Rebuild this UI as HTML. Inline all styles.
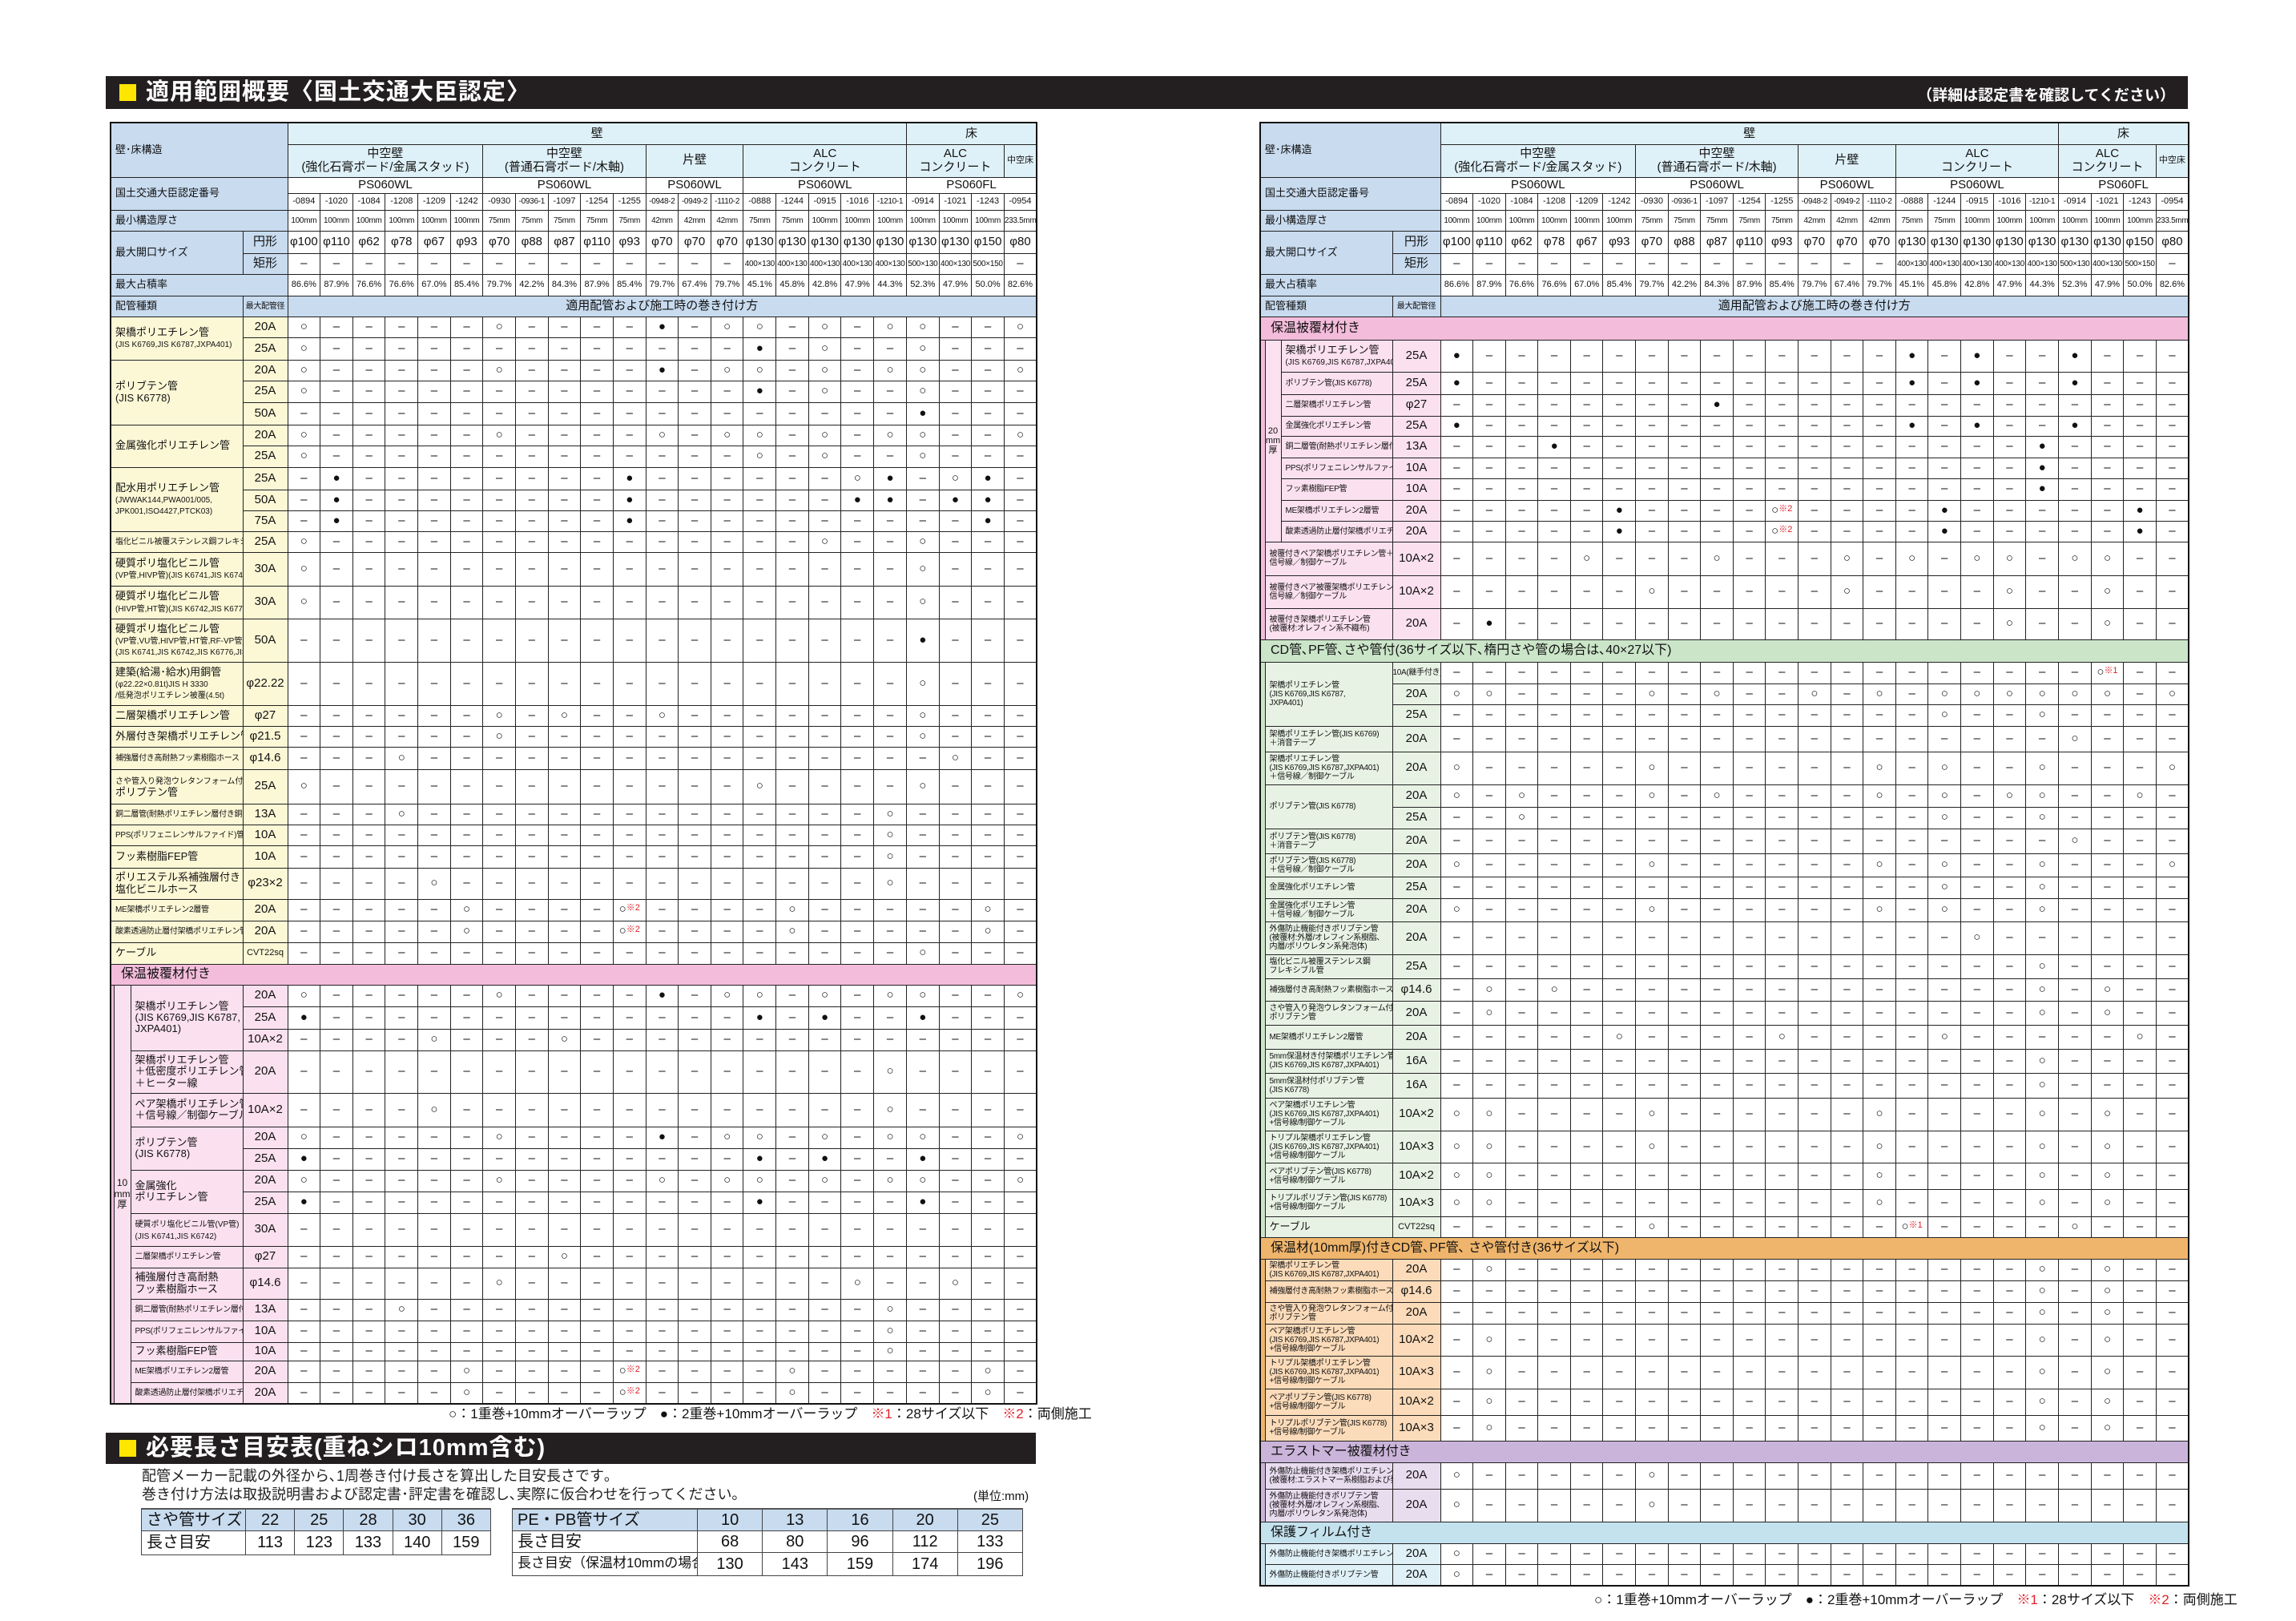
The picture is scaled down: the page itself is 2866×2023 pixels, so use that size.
<!DOCTYPE html>
<html><head><meta charset="utf-8">
<style>
*{margin:0;padding:0;box-sizing:border-box}
body{width:2866px;height:2023px;background:#fff;position:relative;overflow:hidden;font-family:"Liberation Sans","Noto Sans CJK JP",sans-serif;color:#111}
.bar{position:absolute;background:#231f20;color:#fff}
.bar .sq{position:absolute;left:17px;top:10px;width:21px;height:21px;background:#ffe600}
.bar .tt{position:absolute;left:50px;top:3px;font-size:29px;font-weight:bold;line-height:35px;letter-spacing:1px}
table.t{position:absolute;border-collapse:collapse;table-layout:fixed;border:2px solid #111}
table.t td{border:1px solid #222;text-align:center;vertical-align:middle;font-size:15px;line-height:1.1;overflow:hidden;white-space:nowrap;padding:0}
table.t td.L{text-align:left;padding-left:5px;white-space:nowrap;font-size:13px;line-height:1.1}
.hb{background:#c8dbef}.hc{background:#dff1f8}
.y{background:#fcf8d6}.p{background:#fbe1ef}.pb{background:#f3bcdb}
.g{background:#e8f2e4}.gb{background:#cbe5c9}
.o{background:#fbdbb9}.ob{background:#efb56c}
.v{background:#e8dcef}.vb{background:#cbb4da}
.b{background:#dff0f7}.bb{background:#c4e2ee}
td.band{text-align:left!important;padding-left:12px!important;font-size:16px!important;border-left:none!important;border-right:none!important}
td.s{border:none!important}
table.t td.sm{font-size:11px}table.t td.xs{font-size:10px;letter-spacing:-0.3px}
small{font-size:10px}
.r{color:#e0202a;font-size:11px;vertical-align:top}
table.n{position:absolute;border-collapse:collapse;table-layout:fixed}
table.n td{border:1px solid #444;font-size:20px;text-align:center;height:27px;white-space:nowrap;overflow:hidden;line-height:1.1}
table.n td.l{text-align:left;padding-left:6px}
table.n tr.h td{background:#c8dbef;border-top:2px solid #555}
</style></head><body>

<div class="bar" style="left:132px;top:95px;width:2599px;height:41px">
<div class="sq"></div><div class="tt">適用範囲概要〈国土交通大臣認定〉</div>
<div style="position:absolute;right:16px;top:9px;font-size:19px;font-weight:bold">（詳細は認定書を確認してください）</div>
</div>

<!-- LEFT TABLE -->
<table class="t" style="left:137px;top:152px;width:1156px">
<colgroup><col style="width:4px"><col style="width:21px"><col style="width:140px"><col style="width:56px"><col span="23" style="width:40.65px"></colgroup>
<tr style="height:27px"><td colspan="4" rowspan="2" class="L hb">壁･床構造</td><td colspan="19" class="hc">壁</td><td colspan="4" class="hc">床</td></tr>
<tr style="height:41px"><td colspan="6" class="hc">中空壁<br>(強化石膏ボード/金属スタッド)</td><td colspan="5" class="hc">中空壁<br>(普通石膏ボード/木軸)</td><td colspan="3" class="hc">片壁</td><td colspan="5" class="hc">ALC<br>コンクリート</td><td colspan="3" class="hc">ALC<br>コンクリート</td><td class="hc sm">中空床</td></tr>
<tr style="height:20px"><td colspan="4" rowspan="2" class="L hb">国土交通大臣認定番号</td><td colspan="6" style="border-bottom:none">PS060WL</td><td colspan="5" style="border-bottom:none">PS060WL</td><td colspan="3" style="border-bottom:none">PS060WL</td><td colspan="5" style="border-bottom:none">PS060WL</td><td colspan="4" style="border-bottom:none">PS060FL</td></tr>
<tr style="height:21px"><td class="sm">-0894<td class="sm">-1020<td class="sm">-1084<td class="sm">-1208<td class="sm">-1209<td class="sm">-1242<td class="sm">-0930<td class="xs">-0936-1<td class="sm">-1097<td class="sm">-1254<td class="sm">-1255<td class="xs">-0948-2<td class="xs">-0949-2<td class="xs">-1110-2<td class="sm">-0888<td class="sm">-1244<td class="sm">-0915<td class="sm">-1016<td class="xs">-1210-1<td class="sm">-0914<td class="sm">-1021<td class="sm">-1243<td class="sm">-0954</tr>
<tr style="height:26px"><td colspan="4" class="L hb">最小構造厚さ</td><td class="xs">100mm<td class="xs">100mm<td class="xs">100mm<td class="xs">100mm<td class="xs">100mm<td class="xs">100mm<td class="xs">75mm<td class="xs">75mm<td class="xs">75mm<td class="xs">75mm<td class="xs">75mm<td class="xs">42mm<td class="xs">42mm<td class="xs">42mm<td class="xs">75mm<td class="xs">75mm<td class="xs">100mm<td class="xs">100mm<td class="xs">100mm<td class="xs">100mm<td class="xs">100mm<td class="xs">100mm<td class="xs">233.5mm</tr>
<tr style="height:28px"><td colspan="3" rowspan="2" class="L hb">最大開口サイズ</td><td class="hb">円形</td><td>φ100<td>φ110<td>φ62<td>φ78<td>φ67<td>φ93<td>φ70<td>φ88<td>φ87<td>φ110<td>φ93<td>φ70<td>φ70<td>φ70<td>φ130<td>φ130<td>φ130<td>φ130<td>φ130<td>φ130<td>φ130<td>φ150<td>φ80</tr>
<tr style="height:26px"><td class="hb">矩形</td><td>–<td>–<td>–<td>–<td>–<td>–<td>–<td>–<td>–<td>–<td>–<td>–<td>–<td>–<td class="xs">400×130<td class="xs">400×130<td class="xs">400×130<td class="xs">400×130<td class="xs">400×130<td class="xs">500×130<td class="xs">400×130<td class="xs">500×150<td>–</tr>
<tr style="height:27px"><td colspan="4" class="L hb">最大占積率</td><td class="sm">86.6%<td class="sm">87.9%<td class="sm">76.6%<td class="sm">76.6%<td class="sm">67.0%<td class="sm">85.4%<td class="sm">79.7%<td class="sm">42.2%<td class="sm">84.3%<td class="sm">87.9%<td class="sm">85.4%<td class="sm">79.7%<td class="sm">67.4%<td class="sm">79.7%<td class="sm">45.1%<td class="sm">45.8%<td class="sm">42.8%<td class="sm">47.9%<td class="sm">44.3%<td class="sm">52.3%<td class="sm">47.9%<td class="sm">50.0%<td class="sm">82.6%</tr>
<tr style="height:26px"><td colspan="3" class="L hb">配管種類</td><td class="hb xs">最大配管径</td><td colspan="23" class="hb">適用配管および施工時の巻き付け方</td></tr>

<tr style="height:26px"><td colspan="3" rowspan="2" class="L y">架橋ポリエチレン管<br><small>(JIS K6769,JIS K6787,JXPA401)</small></td><td class="y">20A</td><td>○<td>–<td>–<td>–<td>–<td>–<td>○<td>–<td>–<td>–<td>–<td>●<td>–<td>○<td>○<td>–<td>○<td>–<td>○<td>○<td>–<td>–<td>○</tr>
<tr style="height:28px"><td class="y">25A</td><td>○<td>–<td>–<td>–<td>–<td>–<td>–<td>–<td>–<td>–<td>–<td>–<td>–<td>–<td>●<td>–<td>○<td>–<td>–<td>○<td>–<td>–<td>–</tr>
<tr style="height:26px"><td colspan="3" rowspan="3" class="L y">ポリブテン管<br>(JIS K6778)</td><td class="y">20A</td><td>○<td>–<td>–<td>–<td>–<td>–<td>○<td>–<td>–<td>–<td>–<td>●<td>–<td>○<td>○<td>–<td>○<td>–<td>○<td>○<td>–<td>–<td>○</tr>
<tr style="height:27px"><td class="y">25A</td><td>○<td>–<td>–<td>–<td>–<td>–<td>–<td>–<td>–<td>–<td>–<td>–<td>–<td>–<td>●<td>–<td>○<td>–<td>–<td>○<td>–<td>–<td>–</tr>
<tr style="height:28px"><td class="y">50A</td><td>–<td>–<td>–<td>–<td>–<td>–<td>–<td>–<td>–<td>–<td>–<td>–<td>–<td>–<td>–<td>–<td>–<td>–<td>–<td>●<td>–<td>–<td>–</tr>
<tr style="height:26px"><td colspan="3" rowspan="2" class="L y">金属強化ポリエチレン管</td><td class="y">20A</td><td>○<td>–<td>–<td>–<td>–<td>–<td>○<td>–<td>–<td>–<td>–<td>○<td>–<td>○<td>○<td>–<td>○<td>–<td>○<td>○<td>–<td>–<td>○</tr>
<tr style="height:27px"><td class="y">25A</td><td>○<td>–<td>–<td>–<td>–<td>–<td>–<td>–<td>–<td>–<td>–<td>–<td>–<td>–<td>○<td>–<td>○<td>–<td>–<td>○<td>–<td>–<td>–</tr>
<tr style="height:28px"><td colspan="3" rowspan="3" class="L y">配水用ポリエチレン管<br><small>(JWWAK144,PWA001/005,<br>JPK001,ISO4427,PTCK03)</small></td><td class="y">25A</td><td>–<td>●<td>–<td>–<td>–<td>–<td>–<td>–<td>–<td>–<td>●<td>–<td>–<td>–<td>–<td>–<td>–<td>○<td>●<td>–<td>○<td>●<td>–</tr>
<tr style="height:26px"><td class="y">50A</td><td>–<td>●<td>–<td>–<td>–<td>–<td>–<td>–<td>–<td>–<td>●<td>–<td>–<td>–<td>–<td>–<td>–<td>●<td>●<td>–<td>●<td>●<td>–</tr>
<tr style="height:26px"><td class="y">75A</td><td>–<td>●<td>–<td>–<td>–<td>–<td>–<td>–<td>–<td>–<td>●<td>–<td>–<td>–<td>–<td>–<td>–<td>–<td>–<td>–<td>–<td>●<td>–</tr>
<tr style="height:26px"><td colspan="3" class="L y xs">塩化ビニル被覆ステンレス鋼フレキシブル管</td><td class="y">25A</td><td>○<td>–<td>–<td>–<td>–<td>–<td>–<td>–<td>–<td>–<td>–<td>–<td>–<td>–<td>–<td>–<td>○<td>–<td>–<td>○<td>–<td>–<td>–</tr>
<tr style="height:42px"><td colspan="3" class="L y">硬質ポリ塩化ビニル管<br><small>(VP管,HIVP管)(JIS K6741,JIS K6742)</small></td><td class="y">30A</td><td>○<td>–<td>–<td>–<td>–<td>–<td>–<td>–<td>–<td>–<td>–<td>–<td>–<td>–<td>–<td>–<td>–<td>–<td>–<td>○<td>–<td>–<td>–</tr>
<tr style="height:41px"><td colspan="3" class="L y">硬質ポリ塩化ビニル管<br><small>(HIVP管,HT管)(JIS K6742,JIS K6776)</small></td><td class="y">30A</td><td>○<td>–<td>–<td>–<td>–<td>–<td>–<td>–<td>–<td>–<td>–<td>–<td>–<td>–<td>–<td>–<td>–<td>–<td>–<td>○<td>–<td>–<td>–</tr>
<tr style="height:54px"><td colspan="3" class="L y">硬質ポリ塩化ビニル管<br><small>(VP管,VU管,HIVP管,HT管,RF-VP管)<br>(JIS K6741,JIS K6742,JIS K6776,JIS K9798)</small></td><td class="y">50A</td><td>–<td>–<td>–<td>–<td>–<td>–<td>–<td>–<td>–<td>–<td>–<td>–<td>–<td>–<td>–<td>–<td>–<td>–<td>–<td>●<td>–<td>–<td>–</tr>
<tr style="height:54px"><td colspan="3" class="L y">建築(給湯･給水)用銅管<br><small>(φ22.22×0.81t)JIS H 3330<br>/低発泡ポリエチレン被覆(4.5t)</small></td><td class="y">φ22.22</td><td>–<td>–<td>–<td>–<td>–<td>–<td>–<td>–<td>–<td>–<td>–<td>–<td>–<td>–<td>–<td>–<td>–<td>–<td>–<td>○<td>–<td>–<td>–</tr>
<tr style="height:26px"><td colspan="3" class="L y">二層架橋ポリエチレン管</td><td class="y">φ27</td><td>–<td>–<td>–<td>–<td>–<td>–<td>○<td>–<td>○<td>–<td>–<td>○<td>–<td>–<td>–<td>–<td>–<td>–<td>–<td>○<td>–<td>–<td>–</tr>
<tr style="height:26px"><td colspan="3" class="L y">外層付き架橋ポリエチレン管</td><td class="y">φ21.5</td><td>–<td>–<td>–<td>–<td>–<td>–<td>○<td>–<td>–<td>–<td>–<td>–<td>–<td>–<td>–<td>–<td>–<td>–<td>–<td>○<td>–<td>–<td>–</tr>
<tr style="height:28px"><td colspan="3" class="L y xs">補強層付き高耐熱フッ素樹脂ホース</td><td class="y">φ14.6</td><td>–<td>–<td>–<td>○<td>–<td>–<td>–<td>–<td>–<td>–<td>–<td>–<td>–<td>–<td>–<td>–<td>–<td>–<td>–<td>–<td>○<td>–<td>–</tr>
<tr style="height:43px"><td colspan="3" class="L y"><small>さや管入り発泡ウレタンフォーム付き</small><br>ポリブテン管</td><td class="y">25A</td><td>○<td>–<td>–<td>–<td>–<td>–<td>–<td>–<td>–<td>–<td>–<td>–<td>–<td>–<td>○<td>–<td>–<td>–<td>–<td>○<td>–<td>–<td>–</tr>
<tr style="height:26px"><td colspan="3" class="L y xs">銅二層管(耐熱ポリエチレン層付き銅管)</td><td class="y">13A</td><td>–<td>–<td>–<td>○<td>–<td>–<td>–<td>–<td>–<td>–<td>–<td>–<td>–<td>–<td>–<td>–<td>–<td>–<td>○<td>–<td>–<td>–<td>–</tr>
<tr style="height:26px"><td colspan="3" class="L y xs">PPS(ポリフェニレンサルファイド)管</td><td class="y">10A</td><td>–<td>–<td>–<td>–<td>–<td>–<td>–<td>–<td>–<td>–<td>–<td>–<td>–<td>–<td>–<td>–<td>–<td>–<td>○<td>–<td>–<td>–<td>–</tr>
<tr style="height:28px"><td colspan="3" class="L y">フッ素樹脂FEP管</td><td class="y">10A</td><td>–<td>–<td>–<td>–<td>–<td>–<td>–<td>–<td>–<td>–<td>–<td>–<td>–<td>–<td>–<td>–<td>–<td>–<td>○<td>–<td>–<td>–<td>–</tr>
<tr style="height:39px"><td colspan="3" class="L y">ポリエステル系補強層付き<br>塩化ビニルホース</td><td class="y">φ23×2</td><td>–<td>–<td>–<td>–<td>○<td>–<td>–<td>–<td>–<td>–<td>–<td>–<td>–<td>–<td>–<td>–<td>–<td>–<td>○<td>–<td>–<td>–<td>–</tr>
<tr style="height:27px"><td colspan="3" class="L y xs">ME架橋ポリエチレン2層管</td><td class="y">20A</td><td>–<td>–<td>–<td>–<td>–<td>○<td>–<td>–<td>–<td>–<td>○<span class="r">※2</span><td>–<td>–<td>–<td>–<td>○<td>–<td>–<td>–<td>–<td>–<td>○<td>–</tr>
<tr style="height:27px"><td colspan="3" class="L y xs">酸素透過防止層付架橋ポリエチレン管</td><td class="y">20A</td><td>–<td>–<td>–<td>–<td>–<td>○<td>–<td>–<td>–<td>–<td>○<span class="r">※2</span><td>–<td>–<td>–<td>–<td>○<td>–<td>–<td>–<td>–<td>–<td>○<td>–</tr>
<tr style="height:27px"><td colspan="3" class="L y">ケーブル</td><td class="y sm">CVT22sq</td><td>–<td>–<td>–<td>–<td>–<td>–<td>–<td>–<td>–<td>–<td>–<td>–<td>–<td>–<td>–<td>–<td>–<td>–<td>–<td>○<td>–<td>–<td>–</tr>
<tr style="height:26px"><td colspan="27" class="band pb">保温被覆材付き</td></tr>

<tr style="height:27px"><td rowspan="17" class="s pb"></td><td rowspan="17" class="p" style="font-size:12px">10<br>mm<br>厚</td><td rowspan="3" class="L p">架橋ポリエチレン管<br>(JIS K6769,JIS K6787,<br>JXPA401)</td><td class="p">20A</td><td>○<td>–<td>–<td>–<td>–<td>–<td>○<td>–<td>–<td>–<td>–<td>●<td>–<td>○<td>○<td>–<td>○<td>–<td>○<td>○<td>–<td>–<td>○</tr>
<tr style="height:28px"><td class="p">25A</td><td>●<td>–<td>–<td>–<td>–<td>–<td>–<td>–<td>–<td>–<td>–<td>–<td>–<td>–<td>●<td>–<td>●<td>–<td>–<td>●<td>–<td>–<td>–</tr>
<tr style="height:27px"><td class="p">10A×2</td><td>–<td>–<td>–<td>–<td>○<td>–<td>–<td>–<td>○<td>–<td>–<td>–<td>–<td>–<td>–<td>–<td>–<td>–<td>–<td>–<td>–<td>–<td>–</tr>
<tr style="height:53px"><td class="L p">架橋ポリエチレン管<br>＋低密度ポリエチレン管<br>＋ヒーター線</td><td class="p">20A</td><td>–<td>–<td>–<td>–<td>–<td>–<td>–<td>–<td>–<td>–<td>–<td>–<td>–<td>–<td>–<td>–<td>–<td>–<td>○<td>–<td>–<td>–<td>–</tr>
<tr style="height:42px"><td class="L p">ペア架橋ポリエチレン管<br>＋信号線／制御ケーブル</td><td class="p">10A×2</td><td>–<td>–<td>–<td>–<td>○<td>–<td>–<td>–<td>–<td>–<td>–<td>–<td>–<td>–<td>–<td>–<td>–<td>–<td>○<td>–<td>–<td>–<td>–</tr>
<tr style="height:27px"><td rowspan="2" class="L p">ポリブテン管<br>(JIS K6778)</td><td class="p">20A</td><td>○<td>–<td>–<td>–<td>–<td>–<td>○<td>–<td>–<td>–<td>–<td>●<td>–<td>○<td>○<td>–<td>○<td>–<td>○<td>○<td>–<td>–<td>○</tr>
<tr style="height:27px"><td class="p">25A</td><td>●<td>–<td>–<td>–<td>–<td>–<td>–<td>–<td>–<td>–<td>–<td>–<td>–<td>–<td>●<td>–<td>●<td>–<td>–<td>●<td>–<td>–<td>–</tr>
<tr style="height:27px"><td rowspan="2" class="L p">金属強化<br>ポリエチレン管</td><td class="p">20A</td><td>○<td>–<td>–<td>–<td>–<td>–<td>○<td>–<td>–<td>–<td>–<td>○<td>–<td>○<td>○<td>–<td>○<td>–<td>○<td>○<td>–<td>–<td>○</tr>
<tr style="height:27px"><td class="p">25A</td><td>●<td>–<td>–<td>–<td>–<td>–<td>–<td>–<td>–<td>–<td>–<td>–<td>–<td>–<td>●<td>–<td>–<td>–<td>–<td>●<td>–<td>–<td>–</tr>
<tr style="height:41px"><td class="L p"><small>硬質ポリ塩化ビニル管(VP管)<br>(JIS K6741,JIS K6742)</small></td><td class="p">30A</td><td>–<td>–<td>–<td>–<td>–<td>–<td>–<td>–<td>–<td>–<td>–<td>–<td>–<td>–<td>–<td>–<td>–<td>–<td>–<td>–<td>–<td>–<td>–</tr>
<tr style="height:27px"><td class="L p xs">二層架橋ポリエチレン管</td><td class="p">φ27</td><td>–<td>–<td>–<td>–<td>–<td>–<td>–<td>–<td>○<td>–<td>–<td>–<td>–<td>–<td>–<td>–<td>–<td>–<td>–<td>–<td>–<td>–<td>–</tr>
<tr style="height:39px"><td class="L p">補強層付き高耐熱<br>フッ素樹脂ホース</td><td class="p">φ14.6</td><td>–<td>–<td>–<td>–<td>–<td>–<td>○<td>–<td>–<td>–<td>–<td>–<td>–<td>–<td>–<td>–<td>–<td>○<td>–<td>–<td>○<td>–<td>–</tr>
<tr style="height:27px"><td class="L p xs">銅二層管(耐熱ポリエチレン層付き銅管)</td><td class="p">13A</td><td>–<td>–<td>–<td>○<td>–<td>–<td>–<td>–<td>–<td>–<td>–<td>–<td>–<td>–<td>–<td>–<td>–<td>–<td>○<td>–<td>–<td>–<td>–</tr>
<tr style="height:27px"><td class="L p xs">PPS(ポリフェニレンサルファイド)管</td><td class="p">10A</td><td>–<td>–<td>–<td>–<td>–<td>–<td>–<td>–<td>–<td>–<td>–<td>–<td>–<td>–<td>–<td>–<td>–<td>–<td>○<td>–<td>–<td>–<td>–</tr>
<tr style="height:23px"><td class="L p">フッ素樹脂FEP管</td><td class="p">10A</td><td>–<td>–<td>–<td>–<td>–<td>–<td>–<td>–<td>–<td>–<td>–<td>–<td>–<td>–<td>–<td>–<td>–<td>–<td>○<td>–<td>–<td>–<td>–</tr>
<tr style="height:27px"><td class="L p xs">ME架橋ポリエチレン2層管</td><td class="p">20A</td><td>–<td>–<td>–<td>–<td>–<td>○<td>–<td>–<td>–<td>–<td>○<span class="r">※2</span><td>–<td>–<td>–<td>–<td>○<td>–<td>–<td>–<td>–<td>–<td>○<td>–</tr>
<tr style="height:27px"><td class="L p xs">酸素透過防止層付架橋ポリエチレン管</td><td class="p">20A</td><td>–<td>–<td>–<td>–<td>–<td>○<td>–<td>–<td>–<td>–<td>○<span class="r">※2</span><td>–<td>–<td>–<td>–<td>○<td>–<td>–<td>–<td>–<td>–<td>○<td>–</tr>
</table>

<div style="position:absolute;left:560px;top:1752px;width:733px;text-align:right;font-size:17px;line-height:26px;white-space:nowrap">○：1重巻+10mmオーバーラップ　●：2重巻+10mmオーバーラップ　<span style="color:#e0202a">※1</span>：28サイズ以下　<span style="color:#e0202a">※2</span>：両側施工</div>

<div class="bar" style="left:132px;top:1788px;width:1161px;height:39px">
<div class="sq" style="top:9px"></div><div class="tt" style="top:2px">必要長さ目安表(重ねシロ10mm含む)</div></div>
<div style="position:absolute;left:177px;top:1831px;font-size:18px;line-height:23px;color:#222;white-space:nowrap">配管メーカー記載の外径から､1周巻き付け長さを算出した目安長さです｡<br>巻き付け方法は取扱説明書および認定書･評定書を確認し､実際に仮合わせを行ってください｡</div>
<div style="position:absolute;left:1215px;top:1856px;font-size:15px">(単位:mm)</div>

<table class="n" style="left:176px;top:1882px;width:436px">
<colgroup><col style="width:130px"><col span="5" style="width:61.2px"></colgroup>
<tr class="h"><td class="l">さや管サイズ<td>22<td>25<td>28<td>30<td>36</tr>
<tr style="height:30px"><td class="l">長さ目安<td>113<td>123<td>133<td>140<td>159</tr>
</table>
<table class="n" style="left:639px;top:1882px;width:637px">
<colgroup><col style="width:231px"><col span="5" style="width:81.2px"></colgroup>
<tr class="h"><td class="l">PE・PB管サイズ<td>10<td>13<td>16<td>20<td>25</tr>
<tr><td class="l">長さ目安<td>68<td>80<td>96<td>112<td>133</tr>
<tr style="height:29px"><td class="l" style="font-size:17px">長さ目安（保温材10mmの場合）<td>130<td>143<td>159<td>174<td>196</tr>
</table>

<!-- RIGHT TABLE -->
<table class="t" style="left:1572px;top:152px;width:1159px">
<colgroup><col style="width:6px"><col style="width:20px"><col style="width:139px"><col style="width:60px"><col span="23" style="width:40.6px"></colgroup>
<tr style="height:27px"><td colspan="4" rowspan="2" class="L hb">壁･床構造</td><td colspan="19" class="hc">壁</td><td colspan="4" class="hc">床</td></tr>
<tr style="height:41px"><td colspan="6" class="hc">中空壁<br>(強化石膏ボード/金属スタッド)</td><td colspan="5" class="hc">中空壁<br>(普通石膏ボード/木軸)</td><td colspan="3" class="hc">片壁</td><td colspan="5" class="hc">ALC<br>コンクリート</td><td colspan="3" class="hc">ALC<br>コンクリート</td><td class="hc sm">中空床</td></tr>
<tr style="height:20px"><td colspan="4" rowspan="2" class="L hb">国土交通大臣認定番号</td><td colspan="6" style="border-bottom:none">PS060WL</td><td colspan="5" style="border-bottom:none">PS060WL</td><td colspan="3" style="border-bottom:none">PS060WL</td><td colspan="5" style="border-bottom:none">PS060WL</td><td colspan="4" style="border-bottom:none">PS060FL</td></tr>
<tr style="height:21px"><td class="sm">-0894<td class="sm">-1020<td class="sm">-1084<td class="sm">-1208<td class="sm">-1209<td class="sm">-1242<td class="sm">-0930<td class="xs">-0936-1<td class="sm">-1097<td class="sm">-1254<td class="sm">-1255<td class="xs">-0948-2<td class="xs">-0949-2<td class="xs">-1110-2<td class="sm">-0888<td class="sm">-1244<td class="sm">-0915<td class="sm">-1016<td class="xs">-1210-1<td class="sm">-0914<td class="sm">-1021<td class="sm">-1243<td class="sm">-0954</tr>
<tr style="height:26px"><td colspan="4" class="L hb">最小構造厚さ</td><td class="xs">100mm<td class="xs">100mm<td class="xs">100mm<td class="xs">100mm<td class="xs">100mm<td class="xs">100mm<td class="xs">75mm<td class="xs">75mm<td class="xs">75mm<td class="xs">75mm<td class="xs">75mm<td class="xs">42mm<td class="xs">42mm<td class="xs">42mm<td class="xs">75mm<td class="xs">75mm<td class="xs">100mm<td class="xs">100mm<td class="xs">100mm<td class="xs">100mm<td class="xs">100mm<td class="xs">100mm<td class="xs">233.5mm</tr>
<tr style="height:28px"><td colspan="3" rowspan="2" class="L hb">最大開口サイズ</td><td class="hb">円形</td><td>φ100<td>φ110<td>φ62<td>φ78<td>φ67<td>φ93<td>φ70<td>φ88<td>φ87<td>φ110<td>φ93<td>φ70<td>φ70<td>φ70<td>φ130<td>φ130<td>φ130<td>φ130<td>φ130<td>φ130<td>φ130<td>φ150<td>φ80</tr>
<tr style="height:26px"><td class="hb">矩形</td><td>–<td>–<td>–<td>–<td>–<td>–<td>–<td>–<td>–<td>–<td>–<td>–<td>–<td>–<td class="xs">400×130<td class="xs">400×130<td class="xs">400×130<td class="xs">400×130<td class="xs">400×130<td class="xs">500×130<td class="xs">400×130<td class="xs">500×150<td>–</tr>
<tr style="height:27px"><td colspan="4" class="L hb">最大占積率</td><td class="sm">86.6%<td class="sm">87.9%<td class="sm">76.6%<td class="sm">76.6%<td class="sm">67.0%<td class="sm">85.4%<td class="sm">79.7%<td class="sm">42.2%<td class="sm">84.3%<td class="sm">87.9%<td class="sm">85.4%<td class="sm">79.7%<td class="sm">67.4%<td class="sm">79.7%<td class="sm">45.1%<td class="sm">45.8%<td class="sm">42.8%<td class="sm">47.9%<td class="sm">44.3%<td class="sm">52.3%<td class="sm">47.9%<td class="sm">50.0%<td class="sm">82.6%</tr>
<tr style="height:26px"><td colspan="3" class="L hb">配管種類</td><td class="hb xs">最大配管径</td><td colspan="23" class="hb">適用配管および施工時の巻き付け方</td></tr>

<tr style="height:29px"><td colspan="27" class="band pb">保温被覆材付き</td></tr>
<tr style="height:40px"><td rowspan="12" class="s pb"></td><td rowspan="9" class="p" style="font-size:11px">20<br>mm<br>厚</td><td class="L p">架橋ポリエチレン管<br><small>(JIS K6769,JIS K6787,JXPA401)</small></td><td class="p">25A</td><td>●<td>–<td>–<td>–<td>–<td>–<td>–<td>–<td>–<td>–<td>–<td>–<td>–<td>–<td>●<td>–<td>●<td>–<td>–<td>●<td>–<td>–<td>–</tr>
<tr style="height:28px"><td class="L p xs">ポリブテン管(JIS K6778)</td><td class="p">25A</td><td>●<td>–<td>–<td>–<td>–<td>–<td>–<td>–<td>–<td>–<td>–<td>–<td>–<td>–<td>●<td>–<td>●<td>–<td>–<td>●<td>–<td>–<td>–</tr>
<tr style="height:27px"><td class="L p xs">二層架橋ポリエチレン管</td><td class="p">φ27</td><td>–<td>–<td>–<td>–<td>–<td>–<td>–<td>–<td>●<td>–<td>–<td>–<td>–<td>–<td>–<td>–<td>–<td>–<td>–<td>–<td>–<td>–<td>–</tr>
<tr style="height:25px"><td class="L p xs">金属強化ポリエチレン管</td><td class="p">25A</td><td>●<td>–<td>–<td>–<td>–<td>–<td>–<td>–<td>–<td>–<td>–<td>–<td>–<td>–<td>●<td>–<td>●<td>–<td>–<td>●<td>–<td>–<td>–</tr>
<tr style="height:27px"><td class="L p xs">銅二層管(耐熱ポリエチレン層付き銅管)</td><td class="p">13A</td><td>–<td>–<td>–<td>●<td>–<td>–<td>–<td>–<td>–<td>–<td>–<td>–<td>–<td>–<td>–<td>–<td>–<td>–<td>●<td>–<td>–<td>–<td>–</tr>
<tr style="height:26px"><td class="L p xs">PPS(ポリフェニレンサルファイド)管</td><td class="p">10A</td><td>–<td>–<td>–<td>–<td>–<td>–<td>–<td>–<td>–<td>–<td>–<td>–<td>–<td>–<td>–<td>–<td>–<td>–<td>●<td>–<td>–<td>–<td>–</tr>
<tr style="height:27px"><td class="L p xs">フッ素樹脂FEP管</td><td class="p">10A</td><td>–<td>–<td>–<td>–<td>–<td>–<td>–<td>–<td>–<td>–<td>–<td>–<td>–<td>–<td>–<td>–<td>–<td>–<td>●<td>–<td>–<td>–<td>–</tr>
<tr style="height:26px"><td class="L p xs">ME架橋ポリエチレン2層管</td><td class="p">20A</td><td>–<td>–<td>–<td>–<td>–<td>●<td>–<td>–<td>–<td>–<td>○<span class="r">※2</span><td>–<td>–<td>–<td>–<td>●<td>–<td>–<td>–<td>–<td>–<td>●<td>–</tr>
<tr style="height:26px"><td class="L p xs">酸素透過防止層付架橋ポリエチレン管</td><td class="p">20A</td><td>–<td>–<td>–<td>–<td>–<td>●<td>–<td>–<td>–<td>–<td>○<span class="r">※2</span><td>–<td>–<td>–<td>–<td>●<td>–<td>–<td>–<td>–<td>–<td>●<td>–</tr>
<tr style="height:42px"><td colspan="2" class="L p xs">被覆付きペア架橋ポリエチレン管＋<br>信号線／制御ケーブル</td><td class="p">10A×2</td><td>–<td>–<td>–<td>–<td>○<td>–<td>–<td>–<td>○<td>–<td>–<td>–<td>○<td>–<td>○<td>–<td>○<td>○<td>–<td>○<td>○<td>–<td>–</tr>
<tr style="height:41px"><td colspan="2" class="L p xs">被覆付きペア被覆架橋ポリエチレン管＋<br>信号線／制御ケーブル</td><td class="p">10A×2</td><td>–<td>–<td>–<td>–<td>–<td>–<td>○<td>–<td>–<td>–<td>–<td>–<td>○<td>–<td>–<td>–<td>–<td>○<td>–<td>–<td>○<td>–<td>–</tr>
<tr style="height:39px"><td colspan="2" class="L p xs">被覆付き架橋ポリエチレン管<br>(被覆材:オレフィン系不織布)</td><td class="p">20A</td><td>–<td>●<td>–<td>–<td>–<td>–<td>–<td>–<td>–<td>–<td>–<td>–<td>–<td>–<td>–<td>–<td>–<td>○<td>–<td>–<td>○<td>–<td>–</tr>

<tr style="height:28px"><td colspan="27" class="band gb">CD管､PF管､さや管付(36サイズ以下､楕円さや管の場合は､40×27以下)</td></tr>
<tr style="height:27px"><td rowspan="23" class="s gb"></td><td colspan="2" rowspan="3" class="L g xs">架橋ポリエチレン管<br>(JIS K6769,JIS K6787,<br>JXPA401)</td><td class="g xs">10A(継手付き)</td><td>–<td>–<td>–<td>–<td>–<td>–<td>–<td>–<td>–<td>–<td>–<td>–<td>–<td>–<td>–<td>–<td>–<td>–<td>–<td>–<td>○<span class="r">※1</span><td>–<td>–</tr>
<tr style="height:26px"><td class="g">20A</td><td>○<td>○<td>–<td>–<td>–<td>–<td>○<td>–<td>○<td>–<td>–<td>○<td>–<td>○<td>–<td>○<td>○<td>○<td>○<td>○<td>○<td>–<td>○</tr>
<tr style="height:27px"><td class="g">25A</td><td>–<td>–<td>–<td>–<td>–<td>–<td>–<td>–<td>–<td>–<td>–<td>–<td>–<td>–<td>–<td>○<td>–<td>–<td>○<td>–<td>–<td>–<td>–</tr>
<tr style="height:32px"><td colspan="2" class="L g xs">架橋ポリエチレン管(JIS K6769)<br>＋消音テープ</td><td class="g">20A</td><td>–<td>–<td>–<td>–<td>–<td>–<td>–<td>–<td>–<td>–<td>–<td>–<td>–<td>–<td>–<td>–<td>–<td>–<td>–<td>○<td>–<td>–<td>–</tr>
<tr style="height:41px"><td colspan="2" class="L g xs">架橋ポリエチレン管<br>(JIS K6769,JIS K6787,JXPA401)<br>＋信号線／制御ケーブル</td><td class="g">20A</td><td>○<td>–<td>–<td>–<td>–<td>–<td>○<td>–<td>–<td>–<td>–<td>–<td>–<td>○<td>–<td>○<td>–<td>–<td>○<td>–<td>–<td>–<td>○</tr>
<tr style="height:28px"><td colspan="2" rowspan="2" class="L g xs">ポリブテン管(JIS K6778)</td><td class="g">20A</td><td>○<td>–<td>○<td>–<td>–<td>–<td>○<td>–<td>○<td>–<td>–<td>–<td>–<td>○<td>–<td>○<td>–<td>○<td>○<td>–<td>–<td>○<td>–</tr>
<tr style="height:27px"><td class="g">25A</td><td>–<td>–<td>○<td>–<td>–<td>–<td>–<td>–<td>–<td>–<td>–<td>–<td>–<td>–<td>–<td>○<td>–<td>–<td>○<td>–<td>–<td>–<td>–</tr>
<tr style="height:31px"><td colspan="2" class="L g xs">ポリブテン管(JIS K6778)<br>＋消音テープ</td><td class="g">20A</td><td>–<td>–<td>–<td>–<td>–<td>–<td>–<td>–<td>–<td>–<td>–<td>–<td>–<td>–<td>–<td>–<td>–<td>–<td>–<td>○<td>–<td>–<td>–</tr>
<tr style="height:29px"><td colspan="2" class="L g xs">ポリブテン管(JIS K6778)<br>＋信号線／制御ケーブル</td><td class="g">20A</td><td>○<td>–<td>–<td>–<td>–<td>–<td>○<td>–<td>–<td>–<td>–<td>–<td>–<td>○<td>–<td>○<td>–<td>–<td>○<td>–<td>–<td>–<td>○</tr>
<tr style="height:27px"><td colspan="2" class="L g xs">金属強化ポリエチレン管</td><td class="g">25A</td><td>–<td>–<td>–<td>–<td>–<td>–<td>–<td>–<td>–<td>–<td>–<td>–<td>–<td>–<td>–<td>○<td>–<td>–<td>○<td>–<td>–<td>–<td>–</tr>
<tr style="height:29px"><td colspan="2" class="L g xs">金属強化ポリエチレン管<br>＋信号線／制御ケーブル</td><td class="g">20A</td><td>○<td>–<td>–<td>–<td>–<td>–<td>○<td>–<td>–<td>–<td>–<td>–<td>–<td>○<td>–<td>○<td>–<td>–<td>○<td>–<td>–<td>–<td>–</tr>
<tr style="height:41px"><td colspan="2" class="L g xs">外傷防止機能付きポリブテン管<br>(被覆材:外層/オレフィン系樹脂､<br>内層/ポリウレタン系発泡体)</td><td class="g">20A</td><td>–<td>–<td>–<td>–<td>–<td>–<td>–<td>–<td>–<td>–<td>–<td>–<td>–<td>–<td>–<td>–<td>○<td>–<td>–<td>–<td>–<td>–<td>–</tr>
<tr style="height:30px"><td colspan="2" class="L g xs">塩化ビニル被覆ステンレス鋼<br>フレキシブル管</td><td class="g">25A</td><td>–<td>–<td>–<td>–<td>–<td>–<td>–<td>–<td>–<td>–<td>–<td>–<td>–<td>–<td>–<td>–<td>–<td>–<td>○<td>–<td>–<td>–<td>–</tr>
<tr style="height:28px"><td colspan="2" class="L g xs">補強層付き高耐熱フッ素樹脂ホース</td><td class="g">φ14.6</td><td>–<td>○<td>–<td>○<td>–<td>–<td>–<td>–<td>–<td>–<td>–<td>–<td>–<td>–<td>–<td>–<td>–<td>–<td>○<td>–<td>○<td>–<td>–</tr>
<tr style="height:30px"><td colspan="2" class="L g xs">さや管入り発泡ウレタンフォーム付き<br>ポリブテン管</td><td class="g">20A</td><td>–<td>○<td>–<td>–<td>–<td>–<td>–<td>–<td>–<td>–<td>–<td>–<td>–<td>–<td>–<td>–<td>–<td>–<td>○<td>–<td>○<td>–<td>–</tr>
<tr style="height:30px"><td colspan="2" class="L g xs">ME架橋ポリエチレン2層管</td><td class="g">20A</td><td>–<td>–<td>–<td>–<td>–<td>○<td>–<td>–<td>–<td>–<td>○<td>–<td>–<td>–<td>–<td>○<td>–<td>–<td>–<td>–<td>–<td>○<td>–</tr>
<tr style="height:30px"><td colspan="2" class="L g xs">5mm保温材き付架橋ポリエチレン管<br>(JIS K6769,JIS K6787,JXPA401)</td><td class="g">16A</td><td>–<td>–<td>–<td>–<td>–<td>–<td>–<td>–<td>–<td>–<td>–<td>–<td>–<td>–<td>–<td>–<td>–<td>–<td>○<td>–<td>–<td>–<td>–</tr>
<tr style="height:31px"><td colspan="2" class="L g xs">5mm保温材付ポリブテン管<br>(JIS K6778)</td><td class="g">16A</td><td>–<td>–<td>–<td>–<td>–<td>–<td>–<td>–<td>–<td>–<td>–<td>–<td>–<td>–<td>–<td>–<td>–<td>–<td>○<td>–<td>–<td>–<td>–</tr>
<tr style="height:41px"><td colspan="2" class="L g xs">ペア架橋ポリエチレン管<br>(JIS K6769,JIS K6787,JXPA401)<br>+信号線/制御ケーブル</td><td class="g">10A×2</td><td>○<td>○<td>–<td>–<td>–<td>–<td>○<td>–<td>–<td>–<td>–<td>–<td>–<td>○<td>–<td>–<td>–<td>–<td>○<td>–<td>○<td>–<td>–</tr>
<tr style="height:40px"><td colspan="2" class="L g xs">トリプル架橋ポリエチレン管<br>(JIS K6769,JIS K6787,JXPA401)<br>+信号線/制御ケーブル</td><td class="g">10A×3</td><td>○<td>○<td>–<td>–<td>–<td>–<td>○<td>–<td>–<td>–<td>–<td>–<td>–<td>○<td>–<td>–<td>–<td>–<td>○<td>–<td>○<td>–<td>–</tr>
<tr style="height:33px"><td colspan="2" class="L g xs">ペアポリブテン管(JIS K6778)<br>+信号線/制御ケーブル</td><td class="g">10A×2</td><td>○<td>○<td>–<td>–<td>–<td>–<td>–<td>–<td>–<td>–<td>–<td>–<td>–<td>○<td>–<td>–<td>–<td>–<td>○<td>–<td>○<td>–<td>–</tr>
<tr style="height:34px"><td colspan="2" class="L g xs">トリプルポリブテン管(JIS K6778)<br>+信号線/制御ケーブル</td><td class="g">10A×3</td><td>○<td>○<td>–<td>–<td>–<td>–<td>–<td>–<td>–<td>–<td>–<td>–<td>–<td>○<td>–<td>–<td>–<td>–<td>○<td>–<td>○<td>–<td>–</tr>
<tr style="height:26px"><td colspan="2" class="L g">ケーブル</td><td class="g sm">CVT22sq</td><td>–<td>–<td>–<td>–<td>–<td>–<td>○<td>–<td>–<td>–<td>–<td>–<td>–<td>–<td>○<span class="r">※1</span><td>–<td>–<td>–<td>–<td>○<td>–<td>–<td>–</tr>

<tr style="height:27px"><td colspan="27" class="band ob">保温材(10mm厚)付きCD管､PF管､ さや管付き(36サイズ以下)</td></tr>
<tr style="height:27px"><td rowspan="7" class="s ob"></td><td colspan="2" class="L o xs">架橋ポリエチレン管<br>(JIS K6769,JIS K6787,JXPA401)</td><td class="o">20A</td><td>–<td>○<td>–<td>–<td>–<td>–<td>–<td>–<td>–<td>–<td>–<td>–<td>–<td>–<td>–<td>–<td>–<td>–<td>○<td>–<td>○<td>–<td>–</tr>
<tr style="height:27px"><td colspan="2" class="L o xs">補強層付き高耐熱フッ素樹脂ホース</td><td class="o">φ14.6</td><td>–<td>–<td>–<td>–<td>–<td>–<td>–<td>–<td>–<td>–<td>–<td>–<td>–<td>–<td>–<td>–<td>–<td>–<td>○<td>–<td>○<td>–<td>–</tr>
<tr style="height:27px"><td colspan="2" class="L o xs">さや管入り発泡ウレタンフォーム付き<br>ポリブテン管</td><td class="o">20A</td><td>–<td>–<td>–<td>–<td>–<td>–<td>–<td>–<td>–<td>–<td>–<td>–<td>–<td>–<td>–<td>–<td>–<td>–<td>○<td>–<td>○<td>–<td>–</tr>
<tr style="height:40px"><td colspan="2" class="L o xs">ペア架橋ポリエチレン管<br>(JIS K6769,JIS K6787,JXPA401)<br>+信号線/制御ケーブル</td><td class="o">10A×2</td><td>–<td>○<td>–<td>–<td>–<td>–<td>–<td>–<td>–<td>–<td>–<td>–<td>–<td>–<td>–<td>–<td>–<td>–<td>○<td>–<td>○<td>–<td>–</tr>
<tr style="height:41px"><td colspan="2" class="L o xs">トリプル架橋ポリエチレン管<br>(JIS K6769,JIS K6787,JXPA401)<br>+信号線/制御ケーブル</td><td class="o">10A×3</td><td>–<td>○<td>–<td>–<td>–<td>–<td>–<td>–<td>–<td>–<td>–<td>–<td>–<td>–<td>–<td>–<td>–<td>–<td>○<td>–<td>○<td>–<td>–</tr>
<tr style="height:33px"><td colspan="2" class="L o xs">ペアポリブテン管(JIS K6778)<br>+信号線/制御ケーブル</td><td class="o">10A×2</td><td>–<td>○<td>–<td>–<td>–<td>–<td>–<td>–<td>–<td>–<td>–<td>–<td>–<td>–<td>–<td>–<td>–<td>–<td>○<td>–<td>○<td>–<td>–</tr>
<tr style="height:32px"><td colspan="2" class="L o xs">トリプルポリブテン管(JIS K6778)<br>+信号線/制御ケーブル</td><td class="o">10A×3</td><td>–<td>○<td>–<td>–<td>–<td>–<td>–<td>–<td>–<td>–<td>–<td>–<td>–<td>–<td>–<td>–<td>–<td>–<td>○<td>–<td>○<td>–<td>–</tr>

<tr style="height:27px"><td colspan="27" class="band vb">エラストマー被覆材付き</td></tr>
<tr style="height:33px"><td rowspan="2" class="s vb"></td><td colspan="2" class="L v xs">外傷防止機能付き架橋ポリエチレン管<br>(被覆材:エラストマー系樹脂および発泡体)</td><td class="v">20A</td><td>○<td>–<td>–<td>–<td>–<td>–<td>○<td>–<td>–<td>–<td>–<td>–<td>–<td>–<td>–<td>–<td>–<td>–<td>–<td>–<td>–<td>–<td>–</tr>
<tr style="height:41px"><td colspan="2" class="L v xs">外傷防止機能付きポリブテン管<br>(被覆材:外層/オレフィン系樹脂､<br>内層/ポリウレタン系発泡体)</td><td class="v">20A</td><td>○<td>–<td>–<td>–<td>–<td>–<td>○<td>–<td>–<td>–<td>–<td>–<td>–<td>–<td>–<td>–<td>–<td>–<td>–<td>–<td>–<td>–<td>–</tr>
<tr style="height:27px"><td colspan="27" class="band bb">保護フィルム付き</td></tr>
<tr style="height:26px"><td rowspan="2" class="s bb"></td><td colspan="2" class="L b xs">外傷防止機能付き架橋ポリエチレン管</td><td class="b">20A</td><td>○<td>–<td>–<td>–<td>–<td>–<td>–<td>–<td>–<td>–<td>–<td>–<td>–<td>–<td>–<td>–<td>–<td>–<td>–<td>–<td>–<td>–<td>–</tr>
<tr style="height:27px"><td colspan="2" class="L b xs">外傷防止機能付きポリブテン管</td><td class="b">20A</td><td>○<td>–<td>–<td>–<td>–<td>–<td>–<td>–<td>–<td>–<td>–<td>–<td>–<td>–<td>–<td>–<td>–<td>–<td>–<td>–<td>–<td>–<td>–</tr>
</table>

<div style="position:absolute;left:1990px;top:1984px;width:741px;text-align:right;font-size:17px;line-height:26px;white-space:nowrap">○：1重巻+10mmオーバーラップ　●：2重巻+10mmオーバーラップ　<span style="color:#e0202a">※1</span>：28サイズ以下　<span style="color:#e0202a">※2</span>：両側施工</div>

</body></html>
